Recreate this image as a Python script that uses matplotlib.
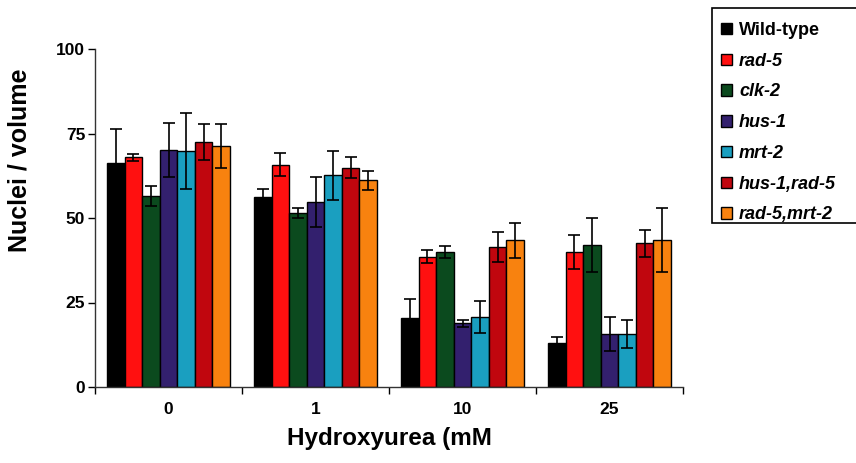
import numpy as np
import matplotlib
matplotlib.use("Agg")
import matplotlib.pyplot as plt
from matplotlib.patches import Rectangle

plt.rcParams['font.family'] = ['Liberation Sans', 'DejaVu Sans']

# data
doses = ["0", "1", "10", "25"]
strains = ["Wild-type", "rad-5", "clk-2", "hus-1", "mrt-2", "hus-1,rad-5", "rad-5,mrt-2"]
colors = ["#000000", "#ff1010", "#0b4a1e", "#33206e", "#1a9fc0", "#c0060e", "#f8820f"]

wild_type = [66.2, 56.3, 20.3, 13.1]
rad5 = [68.0, 65.8, 38.5, 39.9]
clk2 = [56.6, 51.4, 39.9, 42.0]
hus1 = [70.2, 54.7, 18.8, 15.7]
mrt2 = [69.9, 62.6, 20.7, 15.7]
hus1_rad5 = [72.5, 64.9, 41.5, 42.5]
rad5_mrt2 = [71.3, 61.1, 43.4, 43.4]

wild_type_err = [10.0, 2.2, 5.6, 1.6]
rad5_err = [1.0, 3.3, 1.9, 5.0]
clk2_err = [3.0, 1.5, 1.7, 7.9]
hus1_err = [8.0, 7.3, 1.0, 5.0]
mrt2_err = [11.2, 7.3, 4.7, 4.2]
hus1_rad5_err = [5.4, 3.1, 4.4, 3.9]
rad5_mrt2_err = [6.6, 2.7, 5.2, 9.5]

values = [wild_type, rad5, clk2, hus1, mrt2, hus1_rad5, rad5_mrt2]
errors = [wild_type_err, rad5_err, clk2_err, hus1_err, mrt2_err, hus1_rad5_err, rad5_mrt2_err]

W, H = 856, 463
fig = plt.figure(figsize=(W / 100, H / 100), dpi=100)
ax = fig.add_axes([95/W, 1 - 387/H, (683 - 95)/W, (387 - 49)/H])

x = np.arange(len(doses))
width = 0.836 / len(strains)
for i, (name, vals, errs, col) in enumerate(zip(strains, values, errors, colors)):
    pos = x - 0.418 + width * (i + 0.5)
    ax.bar(pos, vals, width, color=col, edgecolor="black", linewidth=1.0,
           label=name, zorder=2)
    ax.errorbar(pos, vals, yerr=errs, fmt="none", ecolor="black",
                elinewidth=1.2, capsize=4, capthick=1.2, zorder=3)

ax.set_xlim(-0.5, len(doses) - 0.5)
ax.set_ylim(0, 100)
ax.set_yticks([0, 25, 50, 75, 100])
ax.set_xticks(x)
ax.set_xticklabels(doses)
ax.set_xticks(np.arange(-0.5, len(doses)), minor=True)
ax.tick_params(axis="x", which="major", length=0, pad=11)
ax.tick_params(axis="x", which="minor", length=5, width=1, direction="out")
ax.tick_params(axis="y", length=5, width=1, direction="out", pad=2)
for lab in ax.get_xticklabels() + ax.get_yticklabels():
    lab.set_fontweight("bold")
    lab.set_fontsize(12.5)

for s in ["top", "right"]:
    ax.spines[s].set_visible(False)
for s in ["left", "bottom"]:
    ax.spines[s].set_color("#333333")
    ax.spines[s].set_linewidth(1.0)

ax.set_ylabel("Nuclei / volume", fontsize=18, fontweight="bold", va="center")
ax.yaxis.set_label_coords((20 - 95) / 588, (387 - 160) / 338)
ax.set_xlabel("Hydroxyurea (mM", fontsize=17.5, fontweight="bold", va="center")
ax.xaxis.set_label_coords(0.5, (387 - 438) / 338)

# legend box runs off the right edge in the reference
fig.patches.append(Rectangle((712/W, 1 - 223/H), 200/W, 215/H,
                             transform=fig.transFigure, facecolor="white",
                             edgecolor="black", linewidth=1.2, zorder=0))
leg = fig.legend(loc="upper left", bbox_to_anchor=(712/W, 1 - 13/H),
                 frameon=False,
                 handlelength=0.6, handleheight=0.6, handletextpad=0.4,
                 labelspacing=0.76, borderpad=0.5, borderaxespad=0,
                 prop={"size": 13, "weight": "bold"})
for t in leg.get_texts()[1:]:
    t.set_fontstyle("italic")

fig.savefig("out.png", dpi=100)
